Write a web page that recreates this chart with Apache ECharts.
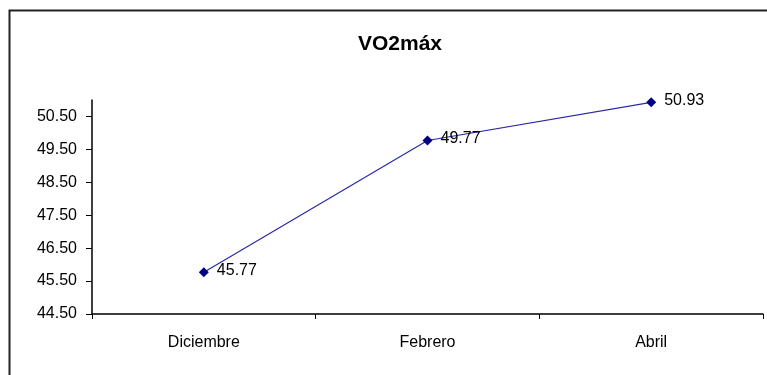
<!DOCTYPE html>
<html>
<head>
<meta charset="utf-8">
<script src="https://cdn.jsdelivr.net/npm/echarts@6/dist/echarts.min.js"></script>
<style>html,body{margin:0;padding:0;background:#fff}#c{width:767px;height:375px}</style>
</head>
<body>
<div id="c"></div>
<script>
const categories = ['Diciembre', 'Febrero', 'Abril'];
const vo2Values = [45.77, 49.77, 50.93];
const yTicks = [44.5, 45.5, 46.5, 47.5, 48.5, 49.5, 50.5];
const titleText = 'VO2máx';

const FONT = 'Liberation Sans, Arial, sans-serif';
const chart = echarts.init(document.getElementById('c'), null, {renderer: 'canvas'});
chart.setOption({
  animation: false,
  backgroundColor: '#fff',
  graphic: [{
    type: 'rect', left: 7, top: 8,
    shape: {width: 800, height: 400},
    style: {fill: 'none', stroke: '#222', lineWidth: 2}, silent: true
  }],
  title: {
    text: titleText, left: 395, top: 29, textAlign: 'center',
    textStyle: {fontFamily: FONT, fontWeight: 'bold', fontSize: 21, color: '#000'}
  },
  grid: {left: 92, right: 4, top: 100, bottom: 61, containLabel: false},
  xAxis: {
    type: 'category', data: categories, boundaryGap: true,
    axisLine: {lineStyle: {color: '#000', width: 1.5}},
    axisTick: {show: true, interval: 0, length: 5, lineStyle: {color: '#000'}},
    axisLabel: {margin: 21, color: '#000', fontFamily: FONT, fontSize: 16},
    splitLine: {show: false}
  },
  yAxis: {
    type: 'value', min: 44.5, max: 51, interval: 1,
    axisLine: {show: true, lineStyle: {color: '#000', width: 1.5}},
    axisTick: {show: true, length: 6, customValues: yTicks, lineStyle: {color: '#000'}},
    axisLabel: {customValues: yTicks, margin: 15, color: '#000', fontFamily: FONT, fontSize: 16,
      formatter: v => v.toFixed(2)},
    splitLine: {show: false}
  },
  series: [{
    type: 'line', data: vo2Values,
    symbol: 'diamond', symbolSize: 10,
    itemStyle: {color: '#000080'},
    lineStyle: {color: '#2a2aa8', width: 1.2},
    label: {show: true, position: 'right', distance: 8, offset: [0, -2], color: '#000',
      fontFamily: FONT, fontSize: 16, formatter: p => p.value.toFixed(2)}
  }]
});
</script>
</body>
</html>
